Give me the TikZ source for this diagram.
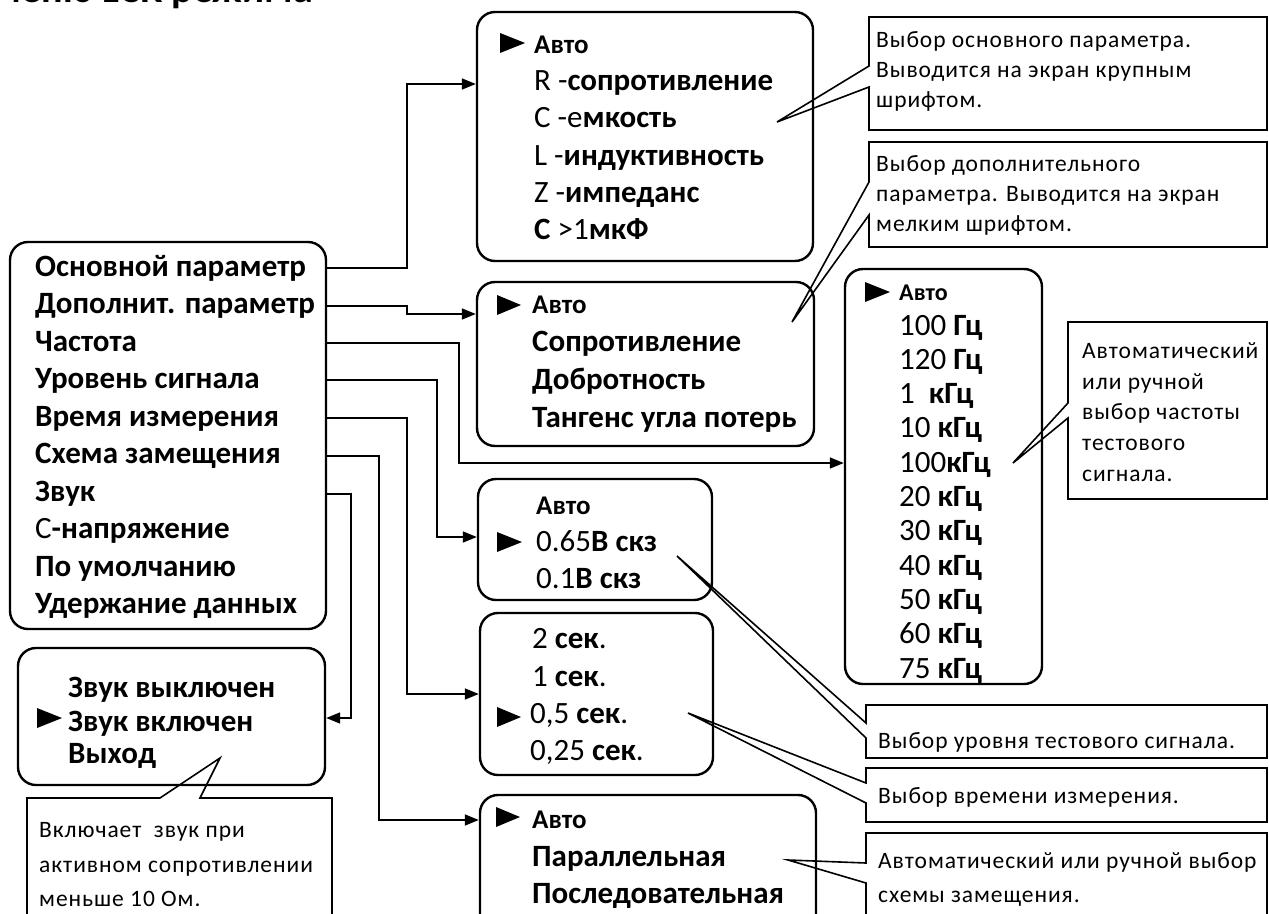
\documentclass[tikz,border=0pt]{standalone}
\usepackage{fontspec}
\setmainfont{Carlito}
\newfontfamily\callfont[LetterSpace=4]{Carlito}
\usetikzlibrary{arrows.meta}
\begin{document}
\begin{tikzpicture}[x=1pt,y=-1pt,
  box/.style={draw,line width=2.4pt,rounded corners=18pt,inner sep=0pt},
  mt/.style={anchor=base west,inner sep=0pt,font=\fontsize{31}{36}\selectfont\bfseries},
  autotxt/.style={anchor=base west,inner sep=0pt,font=\fontsize{27}{32}\selectfont\bfseries},
  ct/.style={anchor=base west,inner sep=0pt,font=\callfont\fontsize{23.5}{26}\selectfont},
  conn/.style={line width=1.6pt},
  arr/.style={conn,-{Triangle[length=14pt,width=11pt]}},
  call/.style={line width=1.6pt,line join=miter},
  tri/.style={fill=black}]
\useasboundingbox (0,0) rectangle (1269,913);
\clip (0,0) rectangle (1269,913);

% title (cut off at top)
\node[anchor=base east,inner sep=0pt,font=\fontsize{40}{40}\selectfont\bfseries] (title) at (313,2) {Меню LCR режима};

% ---------- boxes ----------
\node[box,minimum width=316,minimum height=387] (mb) at (168,435.5) {};
\node[box,minimum width=336,minimum height=249] (b1) at (645,136.5) {};
\node[box,minimum width=337,minimum height=164] (b2) at (645.5,364) {};
\node[box,minimum width=197,minimum height=415] (bf) at (943.5,476.5) {};
\node[box,minimum width=234,minimum height=121] (b4) at (595,539.5) {};
\node[box,minimum width=233,minimum height=162] (b5) at (596.5,694) {};
\node[box,minimum width=336,minimum height=160] (b6) at (648,875) {};
\node[box,minimum width=307,minimum height=137] (b7) at (171.5,716.5) {};

% ---------- main menu ----------
\node[mt] (r1) at (35,276) {Основной параметр};
\node[mt] (r2) at (35,313.5) {Дополнит. параметр};
\node[mt] (r3) at (35,351) {Частота};
\node[mt] (r4) at (35,388.5) {Уровень сигнала};
\node[mt] (r5) at (35,426) {Время измерения};
\node[mt] (r6) at (35,463.5) {Схема замещения};
\node[mt] (r7) at (35,501) {Звук};
\node[mt] (r8) at (35,538.5) {{\mdseries С}-напряжение};
\node[mt] (r9) at (35,576) {По умолчанию};
\node[mt] (r10) at (35,613.5) {Удержание данных};

% ---------- box 1 ----------
\fill[tri] (500,33) -- (525,43) -- (500,53) -- cycle;
\node[autotxt] (b1a) at (534,53) {Авто};
\node[mt] (b1b) at (534,90) {{\mdseries R -}сопротивление};
\node[mt] (b1c) at (534,127) {{\mdseries C -е}мкость};
\node[mt] (b1d) at (534,165) {{\mdseries L -}индуктивность};
\node[mt] (b1e) at (534,202) {{\mdseries Z -}импеданс};
\node[mt] (b1f) at (534,239) {C {\mdseries >1}мкФ};

% ---------- box 2 ----------
\fill[tri] (497,295) -- (521,305) -- (497,315) -- cycle;
\node[autotxt] (b2a) at (532,313) {Авто};
\node[mt] (b2b) at (532,351) {Сопротивление};
\node[mt] (b2c) at (532,389) {Добротность};
\node[mt] (b2d) at (532,427) {Тангенс угла потерь};

% ---------- frequency box ----------
\fill[tri] (865,282) -- (890,292) -- (865,302) -- cycle;
\node[anchor=base west,inner sep=0pt,font=\fontsize{24}{28}\selectfont\bfseries] (fa) at (899,300) {Авто};
\node[mt] (f1) at (899,335) {{\mdseries 100 }Гц};
\node[mt] (f2) at (899,369.3) {{\mdseries 120 }Гц};
\node[mt] (f3) at (899,403.6) {{\mdseries 1 }\ кГц};
\node[mt] (f4) at (899,437.9) {{\mdseries 10 }кГц};
\node[mt] (f5) at (899,472.2) {{\mdseries 100}кГц};
\node[mt] (f6) at (899,506.5) {{\mdseries 20 }кГц};
\node[mt] (f7) at (899,540.8) {{\mdseries 30 }кГц};
\node[mt] (f8) at (899,575.1) {{\mdseries 40 }кГц};
\node[mt] (f9) at (899,609.4) {{\mdseries 50 }кГц};
\node[mt] (f10) at (899,643.7) {{\mdseries 60 }кГц};
\node[mt] (f11) at (899,678) {{\mdseries 75 }кГц};

% ---------- level box ----------
\node[autotxt] (b4a) at (536,514) {Авто};
\fill[tri] (497,532) -- (522,542) -- (497,552) -- cycle;
\node[mt] (b4b) at (536,551) {{\mdseries 0.65}В скз};
\node[mt] (b4c) at (536,588) {{\mdseries 0.1}В скз};

% ---------- time box ----------
\node[mt] (b5a) at (532,648) {{\mdseries 2 }сек{\mdseries .}};
\node[mt] (b5b) at (532,686) {{\mdseries 1 }сек{\mdseries .}};
\fill[tri] (497,707) -- (521,717) -- (497,727) -- cycle;
\node[mt] (b5c) at (530,723) {{\mdseries 0,5 }сек{\mdseries .}};
\node[mt] (b5d) at (530,760) {{\mdseries 0,25 }сек{\mdseries .}};

% ---------- circuit box ----------
\fill[tri] (496,807) -- (520,817) -- (496,827) -- cycle;
\node[autotxt] (b6a) at (532,828) {Авто};
\node[mt] (b6b) at (532,866) {Параллельная};
\node[mt] (b6c) at (532,903) {Последовательная};

% ---------- sound box ----------
\node[mt] (b7a) at (68,697) {Звук выключен};
\fill[tri] (37,708) -- (62,718) -- (37,728) -- cycle;
\node[mt] (b7b) at (68,731) {Звук включен};
\node[mt] (b7c) at (68,763) {Выход};

% ---------- connectors ----------
\draw[arr] (mb.east |- 0,268) -- (407,268) |- (b1.west |- 0,84);
\draw[arr] (mb.east |- 0,306) -- (407,306) -- (407,314) -- (b2.west |- 0,314);
\draw[arr] (mb.east |- 0,343) -- (459,343) |- (bf.west |- 0,463);
\draw[arr] (mb.east |- 0,380) -- (437,380) |- (b4.west |- 0,537);
\draw[arr] (mb.east |- 0,418) -- (407,418) |- (b5.west |- 0,694);
\draw[arr] (mb.east |- 0,456) -- (379,456) |- (b6.west |- 0,820);
\draw[arr] (mb.east |- 0,494) -- (351,494) |- (b7.east |- 0,718);

% ---------- callouts ----------
\coordinate (p1) at (777,122);
\draw[call] (869,66) -- (p1) -- (869,87) -- (869,130) -- (1267,130) -- (1267,17) -- (869,17) -- cycle;
\node[ct] (c1a) at (876,47) {Выбор основного параметра.};
\node[ct] (c1b) at (876,77) {Выводится на экран крупным};
\node[ct] (c1c) at (876,107) {шрифтом.};

\coordinate (p2) at (792,322);
\draw[call] (869,182) -- (p2) -- (869,215) -- (869,247) -- (1267,247) -- (1267,142) -- (869,142) -- cycle;
\node[ct] (c2a) at (876,171) {Выбор дополнительного};
\node[ct] (c2b) at (876,201) {параметра. Выводится на экран};
\node[ct] (c2c) at (876,231) {мелким шрифтом.};

\coordinate (p3) at (1013,463);
\draw[call] (1068,403) -- (p3) -- (1068,418) -- (1068,499) -- (1267,499) -- (1267,322) -- (1068,322) -- cycle;
\node[ct] (c3a) at (1082,358) {Автоматический};
\node[ct] (c3b) at (1082,389) {или ручной};
\node[ct] (c3c) at (1082,419) {выбор частоты};
\node[ct] (c3d) at (1082,450) {тестового};
\node[ct] (c3e) at (1082,481) {сигнала.};

\coordinate (p4) at (677,556);
\draw[call] (866,723) -- (p4) -- (866,738) -- (866,758) -- (1267,758) -- (1267,705) -- (866,705) -- cycle;
\node[ct] (c4) at (878,748) {Выбор уровня тестового сигнала.};

\coordinate (p5) at (688,713);
\draw[call] (866,783) -- (p5) -- (866,803) -- (866,822) -- (1267,822) -- (1267,768) -- (866,768) -- cycle;
\node[ct] (c5) at (878,803) {Выбор времени измерения.};

\coordinate (p6) at (788,860);
\draw[call] (866,863) -- (p6) -- (866,883) -- (866,930) -- (1267,930) -- (1267,833) -- (866,833) -- cycle;
\node[ct] (c6a) at (878,868) {Автоматический или ручной выбор};
\node[ct] (c6b) at (878,902) {схемы замещения.};

\coordinate (p7) at (220,758);
\draw[call] (160,798) -- (p7) -- (200,798) -- (332,798) -- (332,930) -- (27,930) -- (27,798) -- cycle;
\node[ct] (c7a) at (39,837) {Включает\ \ звук при};
\node[ct] (c7b) at (39,872) {активном сопротивлении};
\node[ct] (c7c) at (39,906) {меньше 10 Ом.};
\end{tikzpicture}
\end{document}
